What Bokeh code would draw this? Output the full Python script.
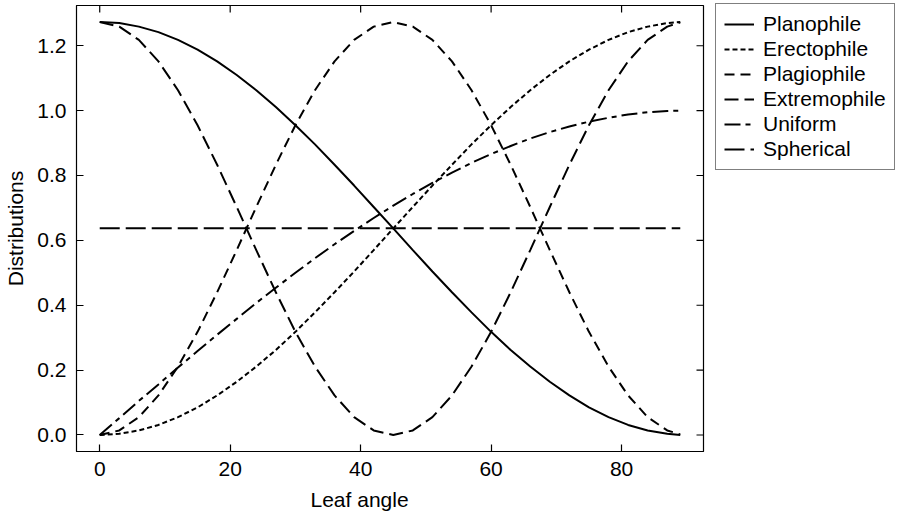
from bokeh.plotting import figure
from bokeh.models import Range1d, LinearAxis, FixedTicker, Legend, LegendItem, Title
from bokeh.embed import file_html
from bokeh.resources import INLINE
import math

# Leaf angle distribution functions, sampled every 3 degrees
angles = [0, 3, 6, 9, 12, 15, 18, 21, 24, 27, 30, 33, 36, 39, 42, 45,
          48, 51, 54, 57, 60, 63, 66, 69, 72, 75, 78, 81, 84, 87, 89]

planophile = [1.273, 1.270, 1.259, 1.242, 1.218, 1.188, 1.152, 1.110, 1.063, 1.011,
              0.955, 0.896, 0.833, 0.769, 0.703, 0.637, 0.570, 0.504, 0.440, 0.378,
              0.318, 0.262, 0.211, 0.164, 0.122, 0.085, 0.055, 0.031, 0.014, 0.004, 0.000]

erectophile = [0.000, 0.004, 0.014, 0.031, 0.055, 0.085, 0.122, 0.164, 0.211, 0.262,
               0.318, 0.378, 0.440, 0.504, 0.570, 0.637, 0.703, 0.769, 0.833, 0.896,
               0.955, 1.011, 1.063, 1.110, 1.152, 1.188, 1.218, 1.242, 1.259, 1.270, 1.273]

plagiophile = [0.000, 0.014, 0.055, 0.122, 0.211, 0.318, 0.440, 0.570, 0.703, 0.833,
               0.955, 1.063, 1.152, 1.218, 1.259, 1.273, 1.259, 1.218, 1.152, 1.063,
               0.955, 0.833, 0.703, 0.570, 0.440, 0.318, 0.211, 0.122, 0.055, 0.014, 0.002]

extremophile = [1.273, 1.259, 1.218, 1.152, 1.063, 0.955, 0.833, 0.703, 0.570, 0.440,
                0.318, 0.211, 0.122, 0.055, 0.014, 0.000, 0.014, 0.055, 0.122, 0.211,
                0.318, 0.440, 0.570, 0.703, 0.833, 0.955, 1.063, 1.152, 1.218, 1.259, 1.272]

uniform = [0.000, 0.052, 0.105, 0.156, 0.208, 0.259, 0.309, 0.358, 0.407, 0.454,
           0.500, 0.545, 0.588, 0.629, 0.669, 0.707, 0.743, 0.777, 0.809, 0.839,
           0.866, 0.891, 0.914, 0.934, 0.951, 0.966, 0.978, 0.988, 0.995, 0.999, 1.000]

spherical_level = 0.637

x_ticks = [0, 20, 40, 60, 80]
y_ticks = [0.0, 0.2, 0.4, 0.6, 0.8, 1.0, 1.2]
y_tick_labels = ["0.0", "0.2", "0.4", "0.6", "0.8", "1.0", "1.2"]

FONT = "Liberation Sans"
FSIZE = "21px"

x_range = Range1d(-3.56, 92.56)
y_range = Range1d(-0.0509, 1.3241)

p = figure(frame_width=627, frame_height=446, output_backend="svg", toolbar_location=None,
           x_range=x_range, y_range=y_range,
           min_border_left=76, min_border_right=199, min_border_top=5,
           min_border_bottom=64, x_axis_location=None, y_axis_location=None)
p.grid.visible = False
p.background_fill_color = "white"
p.border_fill_color = "white"
p.outline_line_color = "black"
p.outline_line_width = 1.2


def make_axis(ticks, labels=None):
    ax = LinearAxis(ticker=FixedTicker(ticks=ticks))
    ax.major_tick_in = 7
    ax.major_tick_out = 0
    ax.minor_tick_line_color = None
    ax.axis_line_color = "black"
    ax.major_tick_line_color = "black"
    ax.major_tick_line_width = 1.2
    ax.major_label_text_font = FONT
    ax.major_label_text_font_size = FSIZE
    ax.major_label_text_color = "black"
    ax.major_label_standoff = 10
    ax.axis_label_text_font = FONT
    ax.axis_label_text_font_size = FSIZE
    ax.axis_label_text_font_style = "normal"
    ax.axis_label_text_color = "black"
    if labels is not None:
        ax.major_label_overrides = {t: l for t, l in zip(ticks, labels)}
    return ax


x_axis = make_axis(x_ticks)
p.add_layout(x_axis, "below")
y_axis = make_axis(y_ticks, y_tick_labels)
y_axis.axis_label = "Distributions"
y_axis.axis_label_standoff = 7
p.add_layout(y_axis, "left")

# Inward tick marks on the top and right edges of the box
p.scatter(x_ticks, [y_range.end] * len(x_ticks), marker="dash", angle=math.pi / 2,
          size=14, line_color="black", line_width=1.2)
p.scatter([x_range.end] * len(y_ticks), y_ticks, marker="dash",
          size=14, line_color="black", line_width=1.2)

LW = 2
r_plan = p.line(angles, planophile, line_color="black", line_width=LW)
r_erec = p.line(angles, erectophile, line_color="black", line_width=LW, line_dash="5 3")
r_plag = p.line(angles, plagiophile, line_color="black", line_width=LW, line_dash="10 6")
r_extr = p.line(angles, extremophile, line_color="black", line_width=LW, line_dash="14 6")
r_unif = p.line(angles, uniform, line_color="black", line_width=LW, line_dash="16 5 5 5")
r_sphe = p.line([angles[0], angles[-1]], [spherical_level, spherical_level],
                line_color="black", line_width=LW, line_dash="20 6")

legend = Legend(items=[
    LegendItem(label="Planophile", renderers=[r_plan]),
    LegendItem(label="Erectophile", renderers=[r_erec]),
    LegendItem(label="Plagiophile", renderers=[r_plag]),
    LegendItem(label="Extremophile", renderers=[r_extr]),
    LegendItem(label="Uniform", renderers=[r_unif]),
    LegendItem(label="Spherical", renderers=[r_sphe]),
], location=(12, 281))
legend.border_line_color = "black"
legend.border_line_width = 1.2
legend.background_fill_color = "white"
legend.background_fill_alpha = 1.0
legend.label_text_font = FONT
legend.label_text_font_size = FSIZE
legend.label_text_color = "black"
legend.glyph_width = 30
legend.glyph_height = 20
legend.label_height = 20
legend.label_standoff = 9
legend.spacing = 1
legend.padding = 8
legend.margin = 0
p.add_layout(legend, "right")

# x-axis title, set a little left of the box centre
p.add_layout(Title(text="Leaf angle", align="left", offset=234, text_font=FONT,
                   text_font_size=FSIZE, text_font_style="normal", text_color="black",
                   standoff=14), "below")

open("out.html", "w").write(file_html(p, INLINE))
